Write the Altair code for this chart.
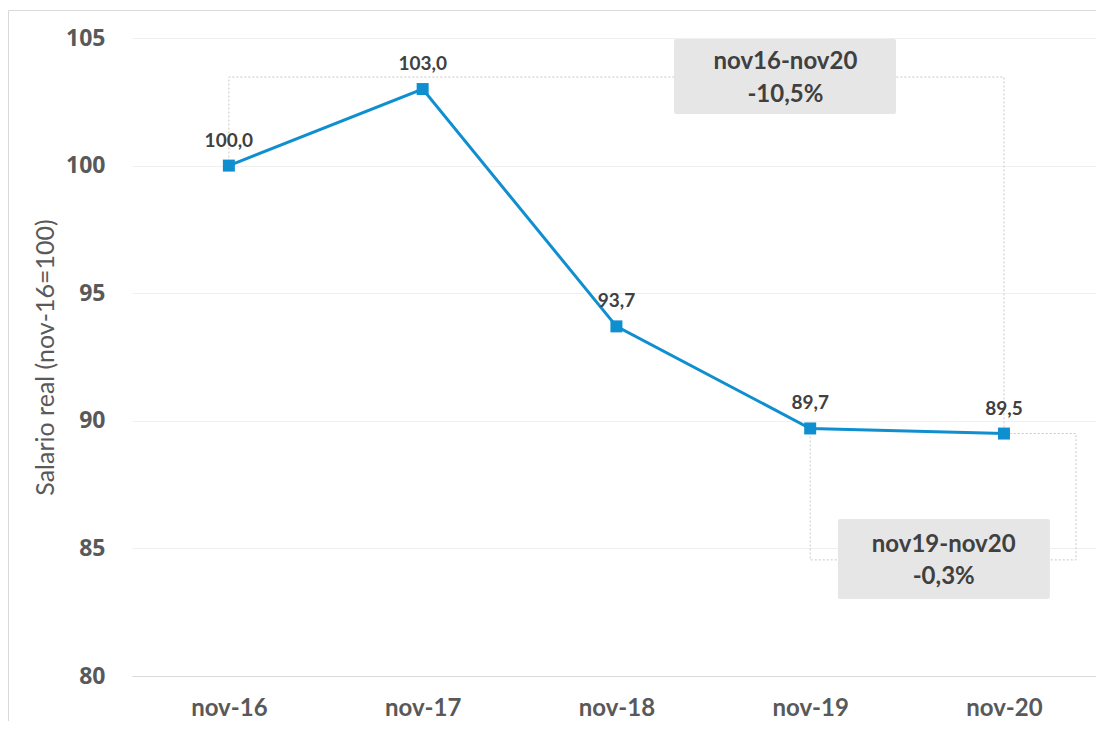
import json
import altair as alt
import pandas as pd

# ---- data ----
categories = ["nov-16", "nov-17", "nov-18", "nov-19", "nov-20"]
values = [100.0, 103.0, 93.7, 89.7, 89.5]
labels = [f"{v:.1f}".replace(".", ",") for v in values]

# annotation boxes
box_text_1 = ["nov16-nov20", "-10,5%"]
box_text_2 = ["nov19-nov20", "-0,3%"]

df = pd.DataFrame({"idx": list(range(len(categories))), "cat": categories,
                   "val": values, "lab": labels})

# dotted connectors (data coordinates)
conn = pd.DataFrame({
    "path": ["a"] * 4 + ["b"] * 5,
    "ord": [0, 1, 2, 3, 0, 1, 2, 3, 4],
    "x": [0, 0, 4, 4, 3, 3, 4.372, 4.372, 4],
    "y": [100.0, 103.47, 103.47, 89.5, 89.7, 84.55, 84.55, 89.5, 89.5],
})
boxes = pd.DataFrame({
    "x": [2.297, 3.143], "x2": [3.443, 4.237],
    "y": [104.96, 86.15], "y2": [102.02, 83.02],
})
btext = pd.DataFrame({
    "x": [2.872, 2.872, 3.689, 3.689],
    "y": [104.06, 102.77, 85.13, 83.88],
    "t": box_text_1 + box_text_2,
})

FONT_C = "Lato, sans-serif"
FONT_Y = "Open Sans, sans-serif"
BLUE = "#0f8fcf"

xscale = alt.Scale(domain=[-0.5, 4.475], nice=False, zero=False)
yscale = alt.Scale(domain=[80, 105], nice=False, zero=False)

label_expr = json.dumps(categories) + "[datum.value]"

base = alt.Chart(df)

line = base.mark_line(color=BLUE, strokeWidth=3).encode(
    x=alt.X("idx:Q", scale=xscale, title=None,
            axis=alt.Axis(values=list(range(len(categories))), labelExpr=label_expr,
                          grid=False, ticks=False, domain=True, domainColor="#d9d9d9",
                          labelFont=FONT_C, labelFontSize=24, labelFontWeight="bold",
                          labelColor="#595959", labelPadding=39,
                          labelBaseline="alphabetic")),
    y=alt.Y("val:Q", scale=yscale, title="Salario real (nov-16=100)",
            axis=alt.Axis(values=[80, 85, 90, 95, 100, 105], grid=True, gridColor="#efefef",
                          ticks=False, domain=False,
                          labelFont=FONT_Y, labelFontSize=23, labelFontWeight="bold",
                          labelColor="#595959", labelPadding=27,
                          titleFont=FONT_C, titleFontSize=25, titleFontWeight="normal",
                          titleColor="#595959", titleX=-87, titleY=319,
                          titleAlign="center", titleBaseline="middle", titleAngle=-90)),
)
pts = base.mark_square(color=BLUE, size=144, opacity=1).encode(x="idx:Q", y="val:Q")
txt = base.mark_text(dy=-25, font=FONT_C, fontSize=19, fontWeight="bold",
                     color="#404040").encode(x="idx:Q", y="val:Q", text="lab:N")

conn_l = alt.Chart(conn).mark_line(color="#c8c8c8", strokeWidth=1, strokeDash=[2, 2]).encode(
    x="x:Q", y="y:Q", detail="path:N", order="ord:Q")
box_r = alt.Chart(boxes).mark_rect(color="#e6e6e6", cornerRadius=2).encode(
    x="x:Q", x2="x2:Q", y="y:Q", y2="y2:Q")
box_t = alt.Chart(btext).mark_text(font=FONT_C, fontSize=24, fontWeight="bold",
                                   color="#404040").encode(x="x:Q", y="y:Q", text="t:N")

border = alt.Chart(df.head(1)).mark_rect(fill=None, stroke="#d9d9d9", strokeWidth=1).encode(
    x=alt.value(-123.5), x2=alt.value(975), y=alt.value(-27.5), y2=alt.value(720))

chart = alt.layer(border, conn_l, line, pts, txt, box_r, box_t).properties(
    width=964, height=638,
    autosize=alt.AutoSizeParams(type="none"),
    padding={"left": 124, "top": 30, "right": 0, "bottom": 45},
).configure_view(stroke=None)

chart.save("out.html", embed_options={"renderer": "svg", "actions": False})
